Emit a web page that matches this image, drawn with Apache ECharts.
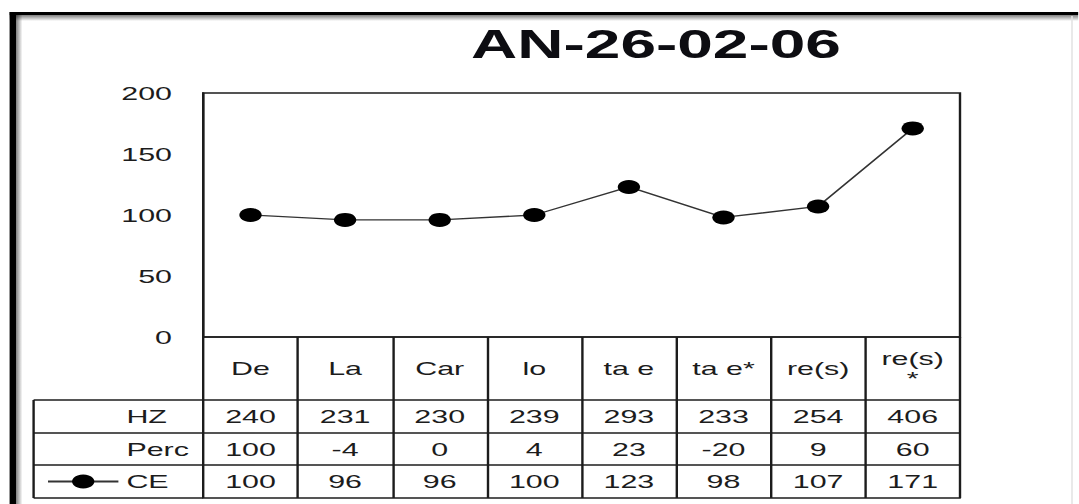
<!DOCTYPE html>
<html>
<head>
<meta charset="utf-8">
<script src="https://cdn.jsdelivr.net/npm/echarts@6/dist/echarts.min.js"></script>
<style>
  html, body { margin: 0; padding: 0; background: #fff; overflow: hidden; }
  /* the source picture is stretched sideways, so the chart is drawn narrow and scaled */
  #chart { width: 674px; height: 504px; transform: scaleX(1.6); transform-origin: 0 0; }
</style>
</head>
<body>
<div id="chart"></div>
<script>
var titleText = 'AN-26-02-06'
var categories = ['De', 'La', 'Car', 'lo', 'ta e', 'ta e*', 're(s)', 're(s)\n*']
var hzValues = [240, 231, 230, 239, 293, 233, 254, 406]
var percValues = [100, -4, 0, 4, 23, -20, 9, 60]
var ceValues = [100, 96, 96, 100, 123, 98, 107, 171]
var yTicks = [0, 50, 100, 150, 200]
var rowNames = ['HZ', 'Perc', 'CE']

// layout (inner, unscaled pixels)
var gridL = 127, gridR = 600, gridT = 93, gridB = 337
var rowLines = [337, 400, 433, 465, 498]
var tableL = 21
var W = 674
var font = 'Liberation Sans, Arial, sans-serif'
var ink = '#1c1c1c'

var chart = echarts.init(document.getElementById('chart'), null, { renderer: 'svg' })

// each table row is an extra category axis pushed down with offset
function tableAxis(i, labels) {
  var h = rowLines[i + 1] - rowLines[i]
  return {
    type: 'category',
    gridIndex: 0,
    position: 'bottom',
    offset: rowLines[i] - gridB,
    data: categories,
    boundaryGap: true,
    axisLine: { show: true, lineStyle: { color: ink, width: 1.5 } },
    axisTick: { show: true, interval: 0, length: h, lineStyle: { color: ink, width: 1.5 } },
    axisLabel: {
      show: true,
      interval: 0,
      margin: h / 2,
      verticalAlign: 'middle',
      fontSize: 19,
      lineHeight: 20,
      color: ink,
      fontFamily: font,
      formatter: function (v, idx) {
        return labels ? String(labels[idx]) : v
      }
    },
    splitLine: { show: false }
  }
}

var xAxes = [
  tableAxis(0, null),
  tableAxis(1, hzValues),
  tableAxis(2, percValues),
  tableAxis(3, ceValues),
  {
    type: 'category',
    gridIndex: 0,
    position: 'bottom',
    offset: rowLines[4] - gridB,
    data: categories,
    axisLine: { show: true, lineStyle: { color: ink, width: 1.5 } },
    axisTick: { show: false },
    axisLabel: { show: false }
  }
]

function fade(x1, y1, x2, y2) {
  return new echarts.graphic.LinearGradient(x1, y1, x2, y2, [
    { offset: 0, color: 'rgba(0,0,0,0.5)' },
    { offset: 1, color: 'rgba(0,0,0,0)' }
  ])
}

var graphics = [
  // picture frame
  { type: 'rect', shape: { x: 6, y: 12, width: W - 6, height: 3 }, style: { fill: '#000' } },
  { type: 'rect', shape: { x: 6, y: 15, width: W - 6, height: 6 }, style: { fill: fade(0, 0, 0, 1) } },
  { type: 'rect', shape: { x: 6, y: 12, width: 4, height: 492 }, style: { fill: '#000' } },
  { type: 'rect', shape: { x: 10, y: 15, width: 4, height: 489 }, style: { fill: fade(0, 0, 1, 0) } },
  { type: 'line', shape: { x1: 670, y1: 16, x2: 670, y2: 504 }, style: { stroke: '#e4e4e4', lineWidth: 1 } },
  // left column of the table
  { type: 'line', shape: { x1: tableL, y1: rowLines[1], x2: tableL, y2: rowLines[4] }, style: { stroke: ink, lineWidth: 1.5 } }
]
for (var r = 1; r <= 4; r++) {
  graphics.push({ type: 'line', shape: { x1: tableL, y1: rowLines[r], x2: gridL, y2: rowLines[r] }, style: { stroke: ink, lineWidth: 1.5 } })
}
for (var k = 0; k < 2; k++) {
  graphics.push({
    type: 'text',
    x: 79,
    y: (rowLines[k + 1] + rowLines[k + 2]) / 2,
    style: { text: rowNames[k], fontSize: 19, fontFamily: font, fill: ink, align: 'left', verticalAlign: 'middle' }
  })
}

var option = {
  animation: false,
  title: {
    text: titleText,
    left: 410,
    top: 44,
    padding: 0,
    textAlign: 'center',
    textVerticalAlign: 'middle',
    textStyle: { fontSize: 40, fontWeight: 'bold', color: '#0d0d12', fontFamily: font }
  },
  legend: {
    data: [rowNames[2]],
    left: 29,
    top: 472,
    padding: 0,
    itemWidth: 44,
    itemHeight: 17.5,
    selectedMode: false,
    textStyle: { fontSize: 19, color: ink, fontFamily: font }
  },
  grid: {
    left: gridL,
    right: W - gridR,
    top: gridT,
    bottom: 504 - gridB,
    show: true,
    borderColor: ink,
    borderWidth: 1.5,
    outerBoundsMode: 'none'
  },
  xAxis: xAxes,
  yAxis: {
    type: 'value',
    min: yTicks[0],
    max: yTicks[yTicks.length - 1],
    interval: yTicks[1] - yTicks[0],
    axisLine: { show: true, lineStyle: { color: ink, width: 1.5 } },
    axisTick: { show: false },
    splitLine: { show: false },
    axisLabel: { fontSize: 19, color: ink, margin: 19.5, fontFamily: font }
  },
  graphic: graphics,
  series: [
    {
      type: 'line',
      name: rowNames[2],
      data: ceValues,
      symbol: 'circle',
      symbolSize: 14,
      lineStyle: { color: '#333', width: 1.3 },
      itemStyle: { color: '#000' },
      z: 3
    }
  ]
}

chart.setOption(option)
</script>
</body>
</html>
